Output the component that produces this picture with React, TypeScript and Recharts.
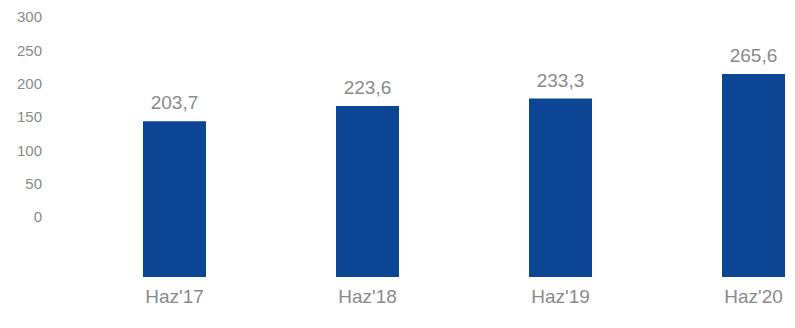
import React from "react";
import { ComposedChart, Bar, Line, XAxis, YAxis, LabelList } from "recharts";

const categories = ["Haz'17", "Haz'18", "Haz'19", "Haz'20"];
const values = [203.7, 223.6, 233.3, 265.6];
const valueLabels = ["203,7", "223,6", "233,3", "265,6"];
const yTicks = [0, 50, 100, 150, 200, 250, 300];

const data = categories.map((c, i) => ({ name: c, value: values[i], label: valueLabels[i] }));

export default function App() {
  return (
    <div style={{ width: 787, height: 320, overflow: "hidden" }}>
      <ComposedChart
        width={845}
        height={320}
        data={data}
        margin={{ top: 9, right: 3, bottom: 21, left: 0 }}
        barCategoryGap={0}
      >
        <XAxis
          dataKey="name"
          axisLine={false}
          tickLine={false}
          tickSize={0}
          tickMargin={13}
          interval={0}
          tick={{ fill: "#8a8a8a", fontSize: 19, fontFamily: "Liberation Sans, Arial, sans-serif" }}
        />
        <YAxis
          yAxisId="axis"
          type="number"
          domain={[-90, 300]}
          allowDataOverflow
          ticks={yTicks}
          width={70}
          axisLine={false}
          tickLine={false}
          tickSize={0}
          tickMargin={36}
          tick={{ fill: "#8a8a8a", fontSize: 15, fontFamily: "Liberation Sans, Arial, sans-serif" }}
        />
        <YAxis yAxisId="bars" type="number" domain={[0, 340]} hide />
        <Line
          yAxisId="axis"
          dataKey="value"
          stroke="none"
          dot={false}
          activeDot={false}
          legendType="none"
          isAnimationActive={false}
        />
        <Bar yAxisId="bars" dataKey="value" fill="#0d4595" barSize={63} isAnimationActive={false}>
          <LabelList
            dataKey="label"
            position="top"
            offset={12}
            fill="#8a8a8a"
            fontSize={19}
            fontFamily="Liberation Sans, Arial, sans-serif"
          />
        </Bar>
      </ComposedChart>
    </div>
  );
}
